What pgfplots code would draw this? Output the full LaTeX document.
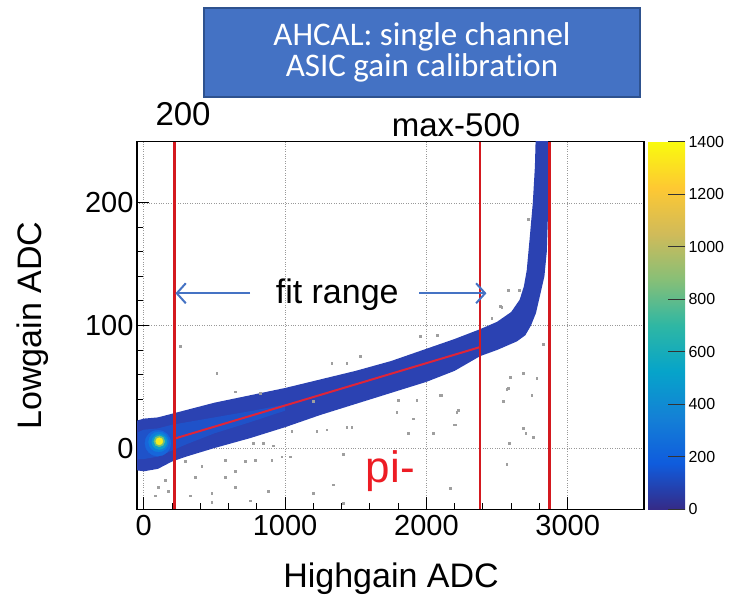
\documentclass[border=0pt]{standalone}
\usepackage{fontspec}
\setmainfont{Liberation Sans}
\newfontfamily\carlito[Ligatures=NoCommon]{Carlito}
\usepackage{pgfplots}
\pgfplotsset{compat=1.18}
\usetikzlibrary{arrows.meta}

\definecolor{bandblue}{rgb}{0.17,0.26,0.70}
\definecolor{coreblue}{rgb}{0.12,0.32,0.79}
\definecolor{hot0}{rgb}{0.09,0.40,0.86}
\definecolor{hot1}{rgb}{0.06,0.49,0.86}
\definecolor{hot2}{rgb}{0.05,0.62,0.80}
\definecolor{hot3}{rgb}{0.45,0.75,0.48}
\definecolor{hot4}{rgb}{0.96,0.93,0.12}
\definecolor{redline}{rgb}{0.83,0.10,0.12}
\definecolor{fitred}{rgb}{0.88,0.14,0.22}
\definecolor{pired}{rgb}{0.93,0.11,0.14}
\definecolor{arrowblue}{rgb}{0.27,0.45,0.77}
\definecolor{titleblue}{rgb}{0.267,0.447,0.769}
\definecolor{titleborder}{rgb}{0.18,0.32,0.56}

\pgfplotsset{
  colormap={bird}{rgb=(0.2081,0.1663,0.5292) rgb=(0.0592,0.3599,0.8684)
    rgb=(0.0780,0.5041,0.8385) rgb=(0.0232,0.6419,0.7914) rgb=(0.1802,0.7178,0.6425)
    rgb=(0.5301,0.7492,0.4662) rgb=(0.8186,0.7328,0.3499) rgb=(0.9956,0.7862,0.1968)
    rgb=(0.9764,0.9832,0.0539)},
  every axis/.append style={/pgf/number format/1000 sep={}, /pgf/number format/assume math mode=true},
}

\begin{document}
\begin{tikzpicture}
\useasboundingbox (0,0) rectangle (730pt,599pt);

\node[fill=titleblue, draw=titleborder, line width=2pt, minimum width=436pt, minimum height=89pt,
      text=white, align=center, font=\carlito\fontsize{33}{31}\selectfont]
  at (422pt,546.5pt) {AHCAL: single channel\\ASIC gain calibration};

\begin{axis}[
  at={(137pt,89.7pt)}, anchor=south west,
  scale only axis, width=507pt, height=367.6pt,
  xmin=-48, xmax=3540, ymin=-50, ymax=250,
  xtick={0,1000,2000,3000}, ytick={0,100,200},
  minor x tick num=4, minor y tick num=4,
  tick pos=left, tick align=inside,
  major tick length=12pt, minor tick length=6pt,
  every tick/.style={black, line width=1pt},
  axis line style={line width=1.6pt},
  grid=major,
  major grid style={dotted, gray!80, line width=0.9pt},
  tick label style={font=\fontsize{29}{29}\selectfont},
  xticklabel style={yshift=-2pt},
  xlabel={Highgain ADC}, ylabel={Lowgain ADC},
  label style={font=\fontsize{34}{34}\selectfont},
  xlabel style={at={(axis description cs:0.501,-0.214)}, anchor=base},
  ylabel style={at={(axis description cs:-0.205,0.5)}, anchor=center},
  clip mode=individual,
  colormap name=bird,
  point meta min=0, point meta max=1400,
  colorbar,
  colorbar/width=37pt,
  colorbar shift/.style={xshift=4pt},
  every colorbar/.append style={major tick length=17pt, ytick align=inside},
  colorbar style={
    at={(parent axis.north east)}, anchor=north west,
    ytick={0,200,...,1400},
    yticklabel style={font=\fontsize{16}{16}\selectfont},
    ytick align=inside,
    major tick length=17pt,
    ytick pos=right, yticklabel pos=right,
    axis line style={draw=none},
    every tick/.style={black!80, line width=1.1pt},
  },
]

% main band of the 2D histogram
\addplot[fill=bandblue, draw=none] coordinates {
  (-60,22) (0,24) (100,25) (200,28) (300,31) (500,37) (750,43) (1000,49)
  (1250,56) (1500,63) (1750,71) (2000,81) (2200,89) (2380,97) (2500,103)
  (2600,111) (2660,121) (2690,132) (2710,145) (2730,170) (2753,200) (2768,230) (2775,260)
  (2862,260) (2863,200) (2852,160) (2835,140) (2805,125) (2775,110) (2740,100)
  (2700,92) (2640,87) (2500,80) (2380,75) (2200,63) (2000,54) (1750,45) (1500,36)
  (1250,27) (1000,17) (750,8) (500,0) (300,-7) (200,-11) (100,-17) (0,-19) (-60,-18)
} -- cycle;

% lighter core near the start of the band
\addplot[fill=coreblue, draw=none] coordinates {
  (-40,13) (0,15) (100,16) (200,19) (300,21) (500,25) (750,30) (1000,35.5)
  (1000,30.5) (750,21) (500,12) (300,3) (200,-2) (100,-7) (0,-9) (-40,-9)
} -- cycle;

% hot spot
\addplot[only marks, mark=*, mark size=13pt, mark options={fill=hot0, draw=hot0}] coordinates {(100,4)};
\addplot[only marks, mark=*, mark size=10pt, mark options={fill=hot1, draw=hot1}] coordinates {(105,5)};
\addplot[only marks, mark=*, mark size=7.5pt, mark options={fill=hot2, draw=hot2}] coordinates {(110,5)};
\addplot[only marks, mark=*, mark size=5.5pt, mark options={fill=hot3, draw=hot3}] coordinates {(110,5.5)};
\addplot[only marks, mark=*, mark size=3.6pt, mark options={fill=hot4, draw=hot4}] coordinates {(110,5.5)};

% sparse outliers
\addplot[only marks, mark=square*, mark size=0.85pt, mark options={fill=gray!75, draw=gray!75}] coordinates {
  (292,-11) (410,-15) (575,-10) (717,-11) (788,-10) (646,-19) (363,-24) (151,-26) (103,-32)
  (174,-35) (328,-39) (481,-37) (646,-32) (575,-24) (917,2) (846,4) (774,4) (906,-10) (977,-7)
  (880,-35) (646,46) (823,45) (752,-43) (80,-39) (481,-44) (257,83) (516,61)
  (1531,75) (1437,69) (1330,69) (1200,38) (1047,14) (1224,14) (1295,15) (1437,17) (1472,17)
  (1802,39) (1873,12) (1932,39) (2050,12) (2109,43) (1035,-7) (1413,-5) (1342,-30) (1200,-37)
  (1413,-45) (1955,91) (2074,92)
  (2580,129) (2522,116) (2828,85) (2686,61) (2569,48) (2545,38) (2746,43) (2203,19) (2227,31)
  (2686,16) (2757,9) (2569,-13) (2168,-33) (1790,29) (1908,24) (2215,29) (2196,19) (2097,43)
  (2580,49) (2703,12) (2588,4) (2533,115) (2658,129) (2463,106) (2781,57) (2592,58) (2722,187)
};

% fit line
\addplot[fitred, line width=2pt] coordinates {(218,7.7) (2380,82.4)};

% range lines
\addplot[redline, line width=2.4pt] coordinates {(216,-50) (216,250)};
\addplot[redline, line width=2.4pt] coordinates {(2380,-50) (2380,250)};
\addplot[redline, line width=2.4pt] coordinates {(2871,-50) (2871,250)};

% annotations
\node[font=\fontsize{33}{33}\selectfont, anchor=base] at (axis cs:278,263.4) {200};
\node[font=\fontsize{33}{33}\selectfont, anchor=base] at (axis cs:2210,253.9) {max-500};
\node[font=\fontsize{34}{34}\selectfont, anchor=base] at (axis cs:1369,117.9) {fit range};
\node[font=\fontsize{44}{44}\selectfont, text=pired, anchor=base] at (axis cs:1745,-28) {pi-};
\draw[arrowblue, line width=2pt, -{Straight Barb[length=9pt,width=20pt]}] (axis cs:752,126.3) -- (axis cs:224,126.3);
\draw[arrowblue, line width=2pt, -{Straight Barb[length=9pt,width=20pt]}] (axis cs:1948,126.3) -- (axis cs:2425,126.3);
\end{axis}
\end{tikzpicture}
\end{document}
